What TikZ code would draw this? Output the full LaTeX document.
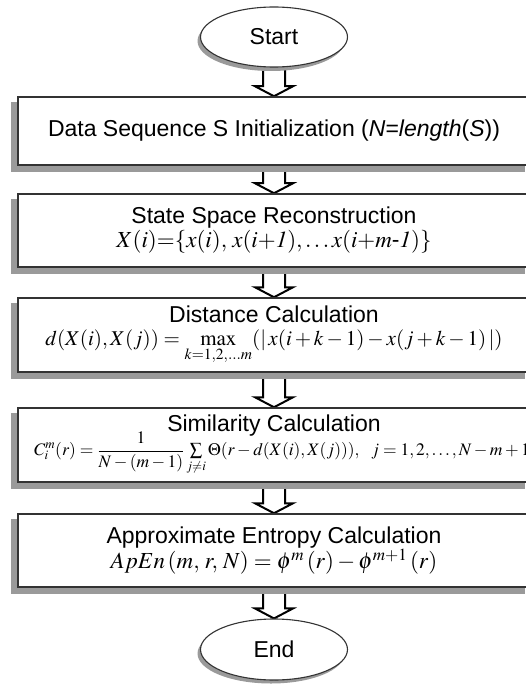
\documentclass[tikz,border=0pt]{standalone}
\usepackage{amsmath}
\usepackage{mathptmx}
\usepackage[no-math]{fontspec}
\setmainfont{Liberation Sans}
\usetikzlibrary{shapes.geometric,calc,backgrounds}
\definecolor{BoxEdge}{HTML}{333333}
\definecolor{ShadeGray}{HTML}{9A9A9A}

\tikzset{
  stepbox/.style={draw=BoxEdge,line width=1.5pt,fill=white,minimum width=512pt,inner sep=0pt,
    align=center,font=\fontsize{23pt}{27pt}\selectfont},
  terminal/.style={ellipse,draw=BoxEdge,line width=1.1pt,fill=white,minimum width=147pt,
    minimum height=60pt,inner sep=0pt,font=\fontsize{23pt}{27pt}\selectfont},
  flowarrow/.style={draw=black,line width=2pt,fill=white,line join=miter},
  shade/.style={fill=ShadeGray}
}

\begin{document}
\begin{tikzpicture}[x=1pt,y=-1pt]
  \useasboundingbox (0,0) rectangle (525,684);
  \node[terminal] (start) at (274,37) {Start};
  \node[stepbox,minimum height=68pt] (init) at (274,131)
    {Data Sequence S Initialization (\textit{N}=\textit{length}(\textit{S}))};
  \node[stepbox,minimum height=73pt] (recon) at (274,230.5)
    {State Space Reconstruction\\[-3pt]
     $X(i){=}\{x(i),\,x(i{+}\mathit{1}),\ldots x(i{+}m\mbox{-}\mathit{1})\}$};
  \node[stepbox,minimum height=74pt] (dist) at (274,335)
    {Distance Calculation\\[-4pt]
     {\fontsize{21pt}{25pt}\selectfont
     $d(X(i),X(j))=\max\limits_{k=1,2,\ldots m}(|\,x(i+k-1)-x(j+k-1)\,|)$}};
  \node[stepbox,minimum height=74pt] (simil) at (274,445)
    {Similarity Calculation\\[-6pt]
     {\fontsize{17.5pt}{21pt}\selectfont\hspace*{16pt}%
     $\displaystyle C_i^m(r)=\frac{1}{N-(m-1)}\mathop{\textstyle\sum}\limits_{j\neq i}\Theta(r-d(X(i),X(j))),\ \ j=1,2,\ldots,N-m+1$}};
  \node[stepbox,minimum height=73pt] (apen) at (274,550.5)
    {Approximate Entropy Calculation\\[-2pt]
     $ApEn\,(m,\,r,\,N)=\phi^{m}\,(r)-\phi^{m+1}\,(r)$};
  \node[terminal,minimum height=61pt] (stop) at (274,649.5) {End};
  \begin{scope}[on background layer]
    % block arrows between the steps
    \foreach \a/\b in {start/init,init/recon,recon/dist,dist/simil,simil/apen,apen/stop}
      \draw[flowarrow] let \p1=(\a.south), \p2=(\b.north) in
        (\x1-11pt,\y1) -- (\x1-11pt,\y2+10pt) -- (\x1-19pt,\y2+10pt) -- (\x1,\y2)
        -- (\x1+19pt,\y2+10pt) -- (\x1+11pt,\y2+10pt) -- (\x1+11pt,\y1);
    % gray shadows, down and to the left
    \foreach \n in {init,recon,dist,simil,apen}
      \fill[shade] ([xshift=-6pt,yshift=-6pt]\n.south west) rectangle ([xshift=-6pt,yshift=-6pt]\n.north east);
    \foreach \n in {start,stop}
      \fill[shade] ([xshift=-3pt,yshift=-4pt]\n.center) ellipse [x radius=73.5pt,y radius=30pt];
  \end{scope}
\end{tikzpicture}
\end{document}
